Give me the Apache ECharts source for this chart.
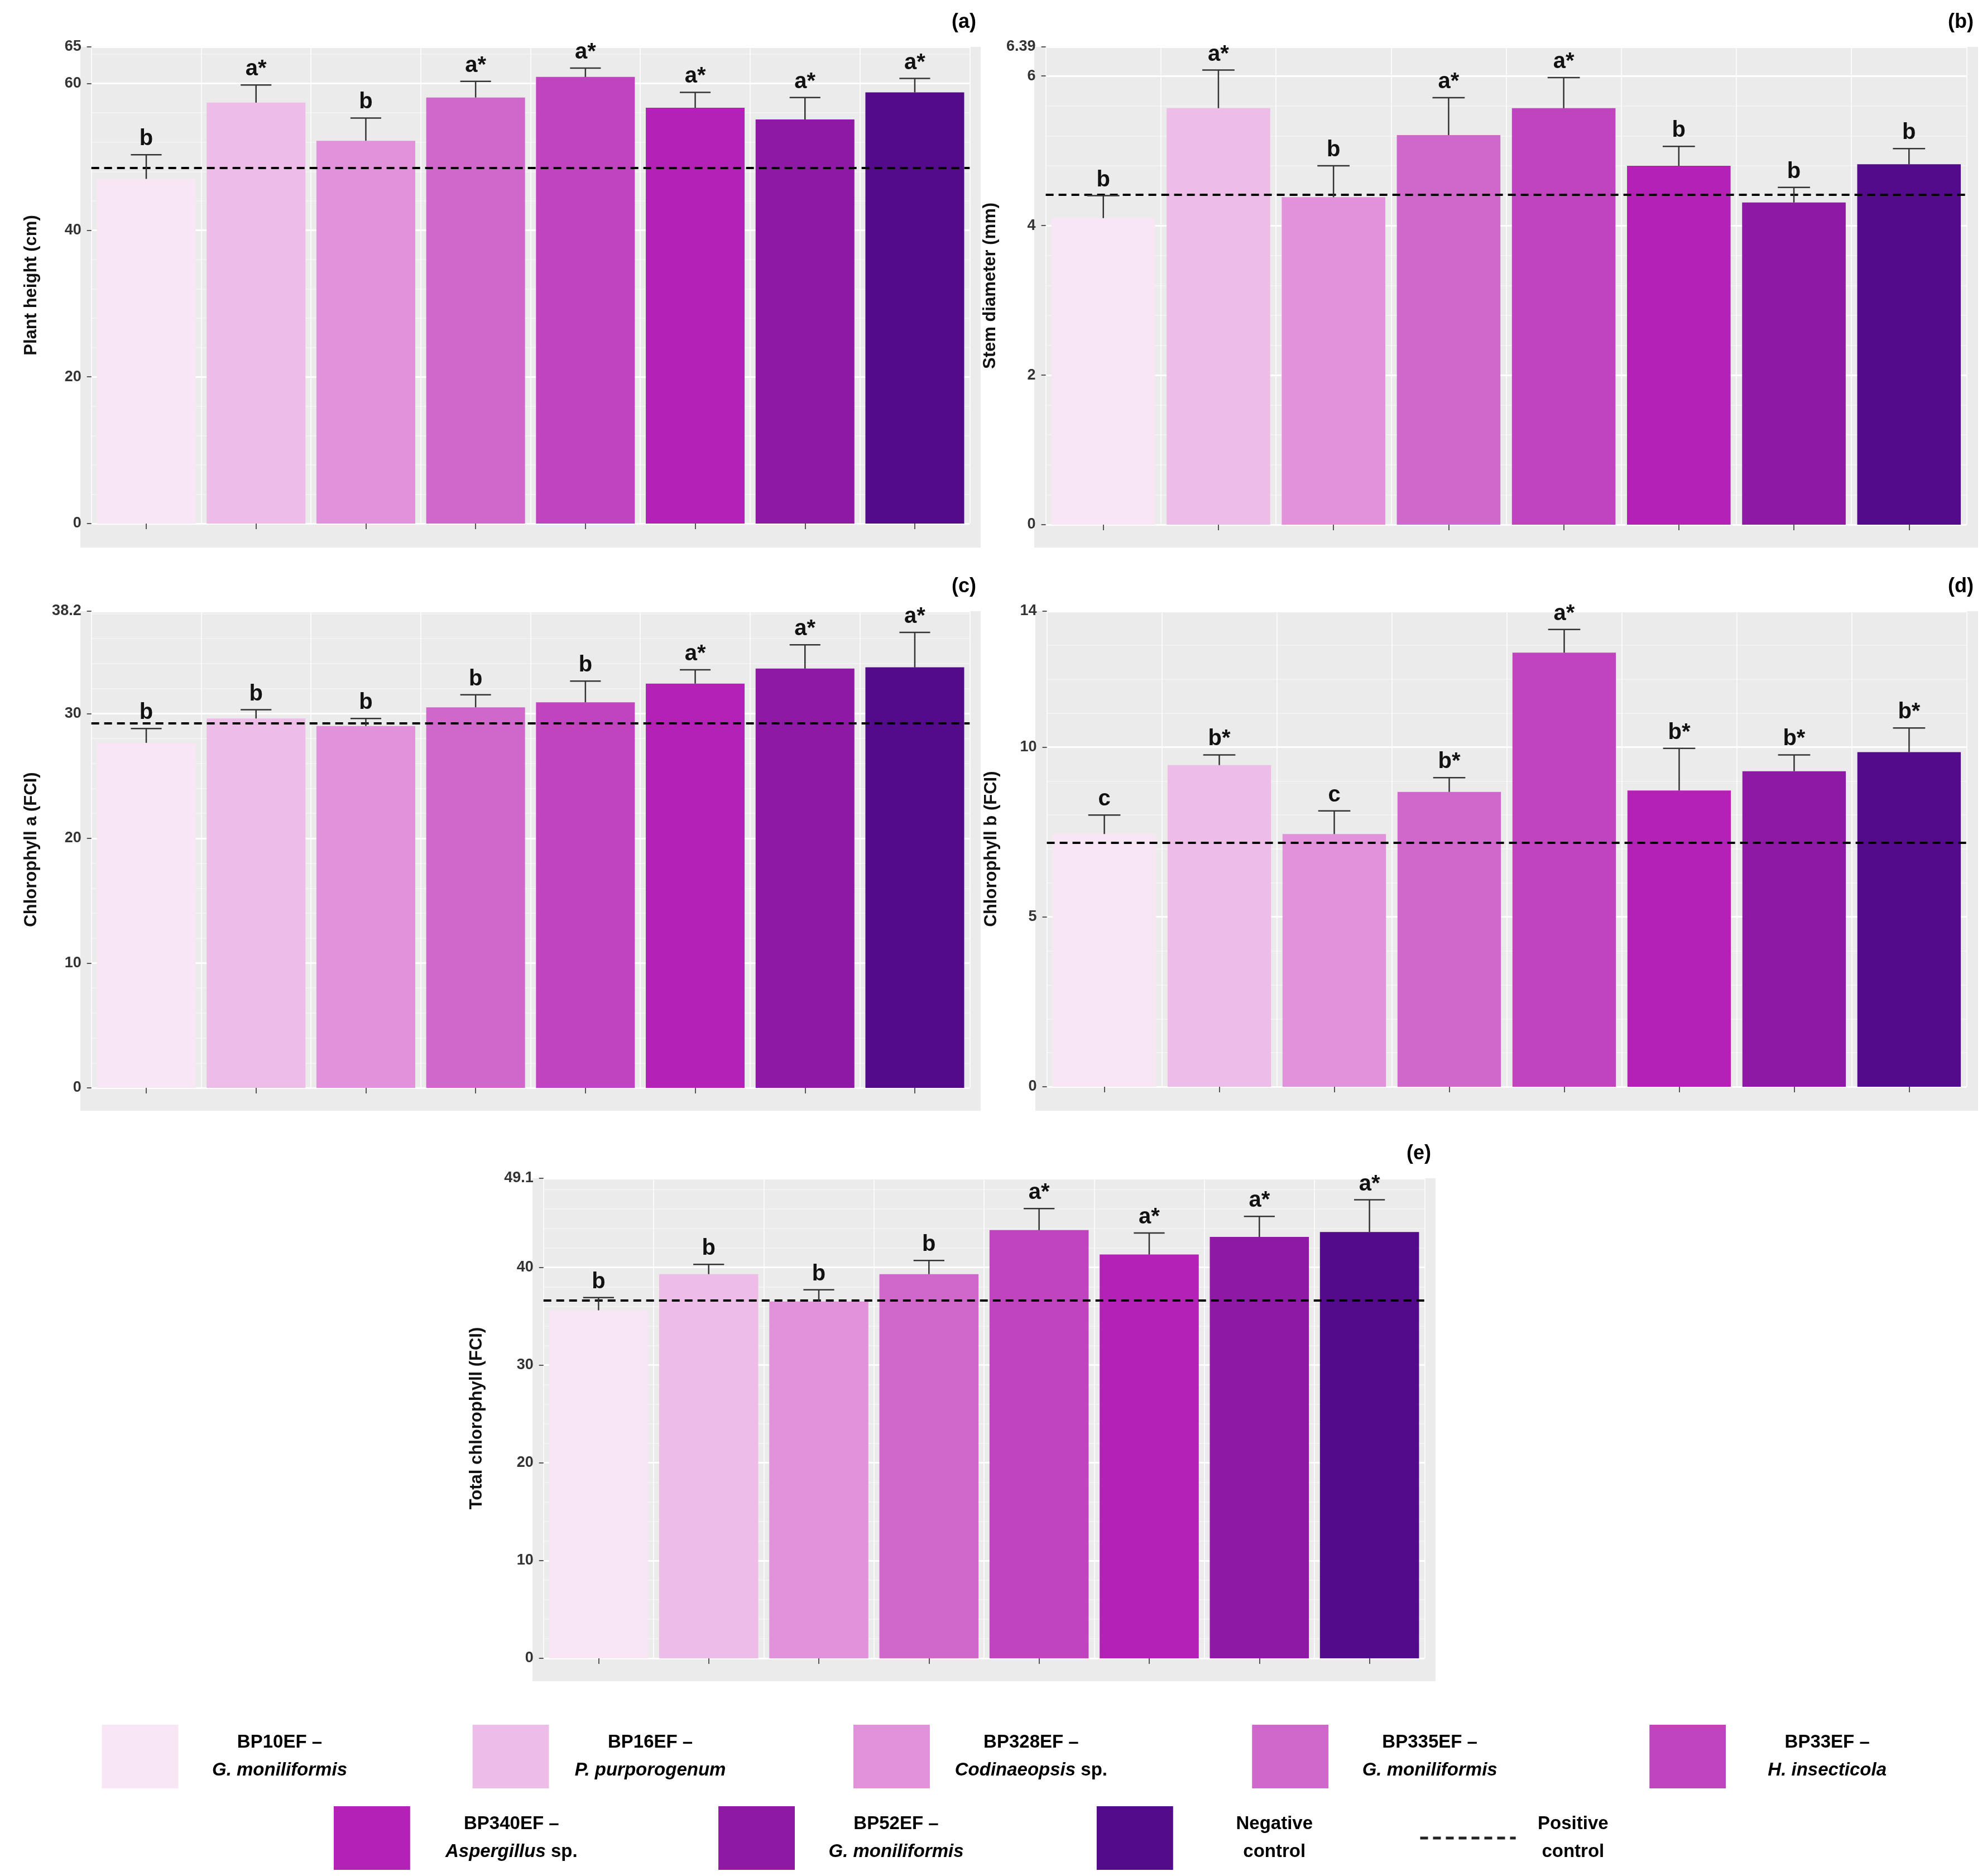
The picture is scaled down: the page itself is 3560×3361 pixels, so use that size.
<!DOCTYPE html>
<html><head><meta charset="utf-8">
<script src="https://cdn.jsdelivr.net/npm/echarts@6/dist/echarts.min.js"></script>
<style>html,body{margin:0;padding:0;background:#fff}#c{width:3560px;height:3361px}</style>
</head><body><div id="c"></div>
<script>
const categories = ['BP10EF','BP16EF','BP328EF','BP335EF','BP33EF','BP340EF','BP52EF','Negative control'];
const colors = ['#F8E6F5','#EDBDE8','#E291DB','#D068CB','#C144BF','#B322B5','#8D19A4','#530A8B'];

const heightMean = [47.0,57.4,52.2,58.1,60.9,56.7,55.1,58.8];
const heightErr  = [50.3,59.8,55.3,60.3,62.1,58.8,58.1,60.7];
const heightLetters = ['b','a*','b','a*','a*','a*','a*','a*'];
const heightPos = 48.5;

const stemMean = [4.10,5.57,4.38,5.21,5.57,4.80,4.31,4.82];
const stemErr  = [4.40,6.08,4.80,5.71,5.98,5.06,4.51,5.03];
const stemLetters = ['b','a*','b','a*','a*','b','b','b'];
const stemPos = 4.41;

const chlAMean = [27.65,29.6,29.0,30.5,30.9,32.4,33.6,33.7];
const chlAErr  = [28.8,30.3,29.6,31.5,32.6,33.5,35.5,36.5];
const chlALetters = ['b','b','b','b','b','a*','a*','a*'];
const chlAPos = 29.2;

const chlBMean = [7.44,9.47,7.44,8.68,12.78,8.72,9.29,9.85];
const chlBErr  = [8.0,9.77,8.12,9.1,13.46,9.96,9.77,10.56];
const chlBLetters = ['c','b*','c','b*','a*','b*','b*','b*'];
const chlBPos = 7.18;

const totMean = [35.6,39.3,36.5,39.3,43.8,41.3,43.1,43.6];
const totErr  = [36.9,40.3,37.7,40.7,46.0,43.5,45.2,46.9];
const totLetters = ['b','b','b','b','a*','a*','a*','a*'];
const totPos = 36.6;

const yTicksInterval = [20, 2, 10, 5, 10];

const chart = echarts.init(document.getElementById('c'));
const panels = [
  {mean:heightMean, err:heightErr, let:heightLetters, pos:heightPos, name:'Plant height (cm)', tag:'(a)', x0:144, x1:1757, y0:84, y1:981, zero:938, max:65},
  {mean:stemMean, err:stemErr, let:stemLetters, pos:stemPos, name:'Stem diameter (mm)', tag:'(b)', x0:1853, x1:3544, y0:84, y1:981, zero:940, max:6.39},
  {mean:chlAMean, err:chlAErr, let:chlALetters, pos:chlAPos, name:'Chlorophyll a (FCI)', tag:'(c)', x0:144, x1:1757, y0:1095, y1:1990, zero:1949, max:38.2},
  {mean:chlBMean, err:chlBErr, let:chlBLetters, pos:chlBPos, name:'Chlorophyll b (FCI)', tag:'(d)', x0:1855, x1:3544, y0:1095, y1:1990, zero:1947, max:14.0},
  {mean:totMean, err:totErr, let:totLetters, pos:totPos, name:'Total chlorophyll (FCI)', tag:'(e)', x0:954, x1:2572, y0:2111, y1:3012, zero:2971, max:49.1}
];
const W=3560;
const grids=[],xAxes=[],yAxes=[],series=[],graphics=[];
panels.forEach((p,i)=>{
  const unitW=(p.x1-p.x0)/8.2;
  const gl=p.x0+0.1*unitW, gr=p.x1-0.1*unitW;
  graphics.push({type:'rect',shape:{x:p.x0,y:p.y0,width:p.x1-p.x0,height:p.y1-p.y0},style:{fill:'#EBEBEB'},z:-10});
  graphics.push({type:'text',x:p.x1-8,y:p.y0-62,style:{text:p.tag,font:'bold 36px "Liberation Sans"',fill:'#000',align:'right'}});
  grids.push({left:gl,width:gr-gl,top:p.y0,height:p.zero-p.y0});
  xAxes.push({type:'category',gridIndex:i,data:categories,offset:p.y1-p.zero,
    axisLine:{show:false},axisTick:{show:true,alignWithLabel:true,length:10,lineStyle:{color:'#555',width:2}},
    axisLabel:{show:false},splitLine:{show:true,lineStyle:{color:'#fff',width:1.5}}});
  yAxes.push({type:'value',gridIndex:i,min:0,max:p.max,interval:yTicksInterval[i],
    name:p.name,nameLocation:'middle',nameGap:i===4?104:(i===1||i===3?84:92),nameRotate:90,
    nameTextStyle:{fontSize:31,fontWeight:'bold',fontFamily:'Liberation Sans',color:'#111'},
    axisLine:{show:false},axisTick:{show:true,length:8,lineStyle:{color:'#555',width:2}},
    axisLabel:{fontSize:27,color:'#333',fontFamily:'Liberation Sans',margin:18,fontWeight:'bold'},
    splitLine:{lineStyle:{color:'#fff',width:3}},
    minorTick:{show:false},minorSplitLine:{show:true,lineStyle:{color:'#F5F5F5',width:1.5}},minorSplitNumber:2});
  series.push({type:'bar',xAxisIndex:i,yAxisIndex:i,barCategoryGap:'10%',
    data:p.mean.map((v,k)=>({value:v,itemStyle:{color:colors[k]}})),
    markLine:{silent:true,symbol:'none',label:{show:false},lineStyle:{color:'#000',type:[14,9],width:4},data:[{yAxis:p.pos}]},
    z:2});
  series.push({type:'custom',xAxisIndex:i,yAxisIndex:i,z:5,
    data:p.mean.map((v,k)=>[k,v,p.err[k],p.let[k]]),
    renderItem:(params,api)=>{
      const k=api.value(0);
      const a=api.coord([k,api.value(1)]), b=api.coord([k,api.value(2)]);
      const cw=api.size([1,0])[0]*0.14;
      const st={stroke:'#333',lineWidth:2.5};
      return {type:'group',children:[
        {type:'line',shape:{x1:b[0],y1:a[1],x2:b[0],y2:b[1]},style:st},
        {type:'line',shape:{x1:b[0]-cw,y1:b[1],x2:b[0]+cw,y2:b[1]},style:st},
        {type:'text',x:b[0],y:b[1]-8,style:{text:p.let[k],font:'bold 40px "Liberation Sans"',fill:'#111',align:'center',verticalAlign:'bottom'}}
      ]};
    }});
});
// legend
const legRows=[
  [[80,'BP10EF –','G. moniliformis',''],[371,'BP16EF –','P. purporogenum',''],[670,'BP328EF –','Codinaeopsis',' sp.'],[983,'BP335EF –','G. moniliformis',''],[1295,'BP33EF –','H. insecticola','']],
  [[262,'BP340EF –','Aspergillus',' sp.'],[564,'BP52EF –','G. moniliformis',''],[861,'Negative','control','',true]]
];
const s=3560/1560;
let ci=0;
legRows.forEach((row,r)=>{
  const ytop=r===0?1354:1418;
  row.forEach(it=>{
    const x=it[0]*s, y=ytop*s;
    graphics.push({type:'rect',shape:{x:x,y:y,width:60*s,height:50*s},style:{fill:colors[ci]}});
    const cx=x+60*s+100*s*0.62+40;
    const second = it[4] ? '{b|'+it[2]+'}' : '{i|'+it[2]+'}'+(it[3]?'{b|'+it[3]+'}':'');
    graphics.push({type:'text',x:cx,y:y+25*s,style:{text:'{b|'+it[1]+'}\n'+second,align:'center',verticalAlign:'middle',
      rich:{b:{font:'bold 33px "Liberation Sans"',fill:'#000',lineHeight:50},i:{font:'italic bold 33px "Liberation Sans"',fill:'#000',lineHeight:50}}}});
    ci++;
  });
});
graphics.push({type:'line',shape:{x1:1115*s,y1:1443*s,x2:1190*s,y2:1443*s},style:{stroke:'#222',lineWidth:5,lineDash:[14,9]}});
graphics.push({type:'text',x:1235*s,y:1443*s,style:{text:'Positive\ncontrol',align:'center',verticalAlign:'middle',font:'bold 33px "Liberation Sans"',lineHeight:50,fill:'#000'}});

chart.setOption({animation:false,backgroundColor:'#fff',grid:grids,xAxis:xAxes,yAxis:yAxes,series:series,graphic:graphics});
</script></body></html>
